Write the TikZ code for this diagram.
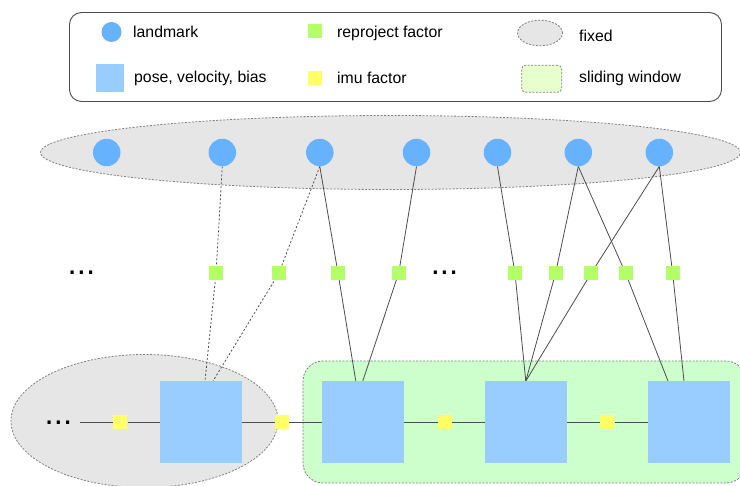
\documentclass[tikz,border=0pt]{standalone}
\usepackage{fontspec}
\setmainfont{Liberation Sans}
\usetikzlibrary{calc,shapes.geometric}
\pgfdeclarelayer{bg}
\pgfdeclarelayer{edges}
\pgfsetlayers{bg,edges,main}
\definecolor{lmkc}{HTML}{66B2FF}
\definecolor{posec}{HTML}{99CCFF}
\definecolor{repc}{HTML}{B3FF66}
\definecolor{imuc}{HTML}{FFFF66}
\definecolor{fixc}{HTML}{E6E6E6}
\definecolor{winc}{HTML}{CCFFCC}
\definecolor{winlc}{HTML}{E6FFCC}
\definecolor{edgec}{HTML}{4D4D4D}
\definecolor{bordc}{HTML}{808080}
\tikzset{
  x=1pt, y=-1pt,
  lmk/.style={circle, fill=lmkc, inner sep=0pt, minimum size=27.5},
  posebox/.style={rectangle, fill=posec, inner sep=0pt, minimum size=81.5},
  rep/.style={rectangle, fill=repc, inner sep=0pt, minimum size=14},
  imu/.style={rectangle, fill=imuc, inner sep=0pt, minimum size=14},
  lbl/.style={anchor=base west, inner sep=0pt, font=\fontsize{15.8}{18}\selectfont},
  dotsnode/.style={anchor=base, inner sep=0pt, font=\fontsize{33}{36}\selectfont},
  edge/.style={draw=edgec, line width=0.8pt},
  dedge/.style={draw=edgec, line width=0.8pt, dash pattern=on 2pt off 2pt},
  dborder/.style={draw=bordc, line width=0.8pt, dash pattern=on 2pt off 1.5pt},
}
\begin{document}
\begin{tikzpicture}
\useasboundingbox (0,0) rectangle (740,486);

% ---------- background regions ----------
\begin{pgfonlayer}{bg}
\fill[white] (0,0) rectangle (740,486);
\node[ellipse, fill=fixc, dborder, minimum width=700, minimum height=74, inner sep=0pt] (topfix) at (390.5,152.5) {};
\node[ellipse, fill=fixc, dborder, minimum width=267, minimum height=133, inner sep=0pt] (botfix) at (144.5,421) {};
\node[rectangle, rounded corners=20, fill=winc, dborder, minimum width=443, minimum height=122, inner sep=0pt] (window) at (524.5,422) {};
\end{pgfonlayer}

% ---------- legend ----------
\node[draw=edgec, line width=0.9pt, rounded corners=12, minimum width=652, minimum height=89, inner sep=0pt] (legend) at (395.5,57) {};
\node[lmk, minimum size=20] (kL) at (111.5,32) {};
\node[lbl] (kLt) at (133,38) {landmark};
\node[posebox, minimum width=28, minimum height=27.5] (kP) at (110,78) {};
\node[lbl] (kPt) at (134,82.5) {pose, velocity, bias};
\node[rep] (kR) at (315,31) {};
\node[lbl] (kRt) at (337,38) {reproject factor};
\node[imu] (kI) at (315,78) {};
\node[lbl] (kIt) at (337,84) {imu factor};
\node[ellipse, fill=fixc, dborder, minimum width=45, minimum height=25.6, inner sep=0pt] (kF) at (540,33) {};
\node[lbl] (kFt) at (579,41.5) {fixed};
\node[rectangle, rounded corners=4, fill=winlc, dborder, minimum width=40, minimum height=27, inner sep=0pt] (kW) at (541.7,78.7) {};
\node[lbl] (kWt) at (579,82.5) {sliding window};

% ---------- landmarks ----------
\node[lmk] (L1) at (106.7,152.5) {};
\node[lmk] (L2) at (222.3,152.5) {};
\node[lmk] (L3) at (319.8,152.5) {};
\node[lmk] (L4) at (416.5,152.5) {};
\node[lmk] (L5) at (497.5,152.5) {};
\node[lmk] (L6) at (578.3,152.5) {};
\node[lmk] (L7) at (659.3,152.5) {};

% ---------- reprojection factors ----------
\node[rep] (F1) at (216,273.5) {};
\node[rep] (F2) at (278.7,273.5) {};
\node[rep] (F3) at (338,273) {};
\node[rep] (F4) at (398.7,273) {};
\node[rep] (F5) at (515,273.5) {};
\node[rep] (F6) at (555.5,273.5) {};
\node[rep] (F7) at (591.3,273) {};
\node[rep] (F8) at (625.7,273.5) {};
\node[rep] (F9) at (672.7,273.5) {};
\node[dotsnode] (D1) at (81.5,274.4) {...};
\node[dotsnode] (D2) at (444.5,274.4) {...};

% ---------- poses and imu factors ----------
\node[posebox] (P1) at (201,422) {};
\node[posebox] (P2) at (362.8,422) {};
\node[posebox] (P3) at (525.8,422) {};
\node[posebox] (P4) at (689,422) {};
\node[imu] (I1) at (120.3,422) {};
\node[imu] (I2) at (282,422) {};
\node[imu] (I3) at (445,422) {};
\node[imu] (I4) at (607.3,422) {};
\node[dotsnode] (D0) at (58.5,424.7) {...};
\coordinate (chainstart) at (80,422);

\coordinate (P1a) at ($(P1.north)+(4,0)$);
\coordinate (P1b) at ($(P1.north)+(12,0)$);
\coordinate (P2a) at ($(P2.north)+(-7,0)$);
\coordinate (P2b) at ($(P2.north)+(0,0)$);
\coordinate (P3a) at (P3.north);
\coordinate (P4a) at ($(P4.north)+(-21,0)$);
\coordinate (P4b) at ($(P4.north)+(-5,0)$);

% ---------- connectors ----------
\begin{pgfonlayer}{edges}
\draw[edge] (chainstart) -- (I1) -- (P1.west);
\draw[edge] (P1.east) -- (I2) -- (P2.west);
\draw[edge] (P2.east) -- (I3) -- (P3.west);
\draw[edge] (P3.east) -- (I4) -- (P4.west);

\draw[dedge] (L2.south) -- (F1.center) -- (P1a);
\draw[dedge] (L3.south) -- (F2.center) -- (P1b);
\draw[edge] (L3.south) -- (F3.center) -- (P2a);
\draw[edge] (L4.south) -- (F4.center) -- (P2b);
\draw[edge] (L5.south) -- (F5.center) -- (P3a);
\draw[edge] (L6.south) -- (F6.center) -- (P3a);
\draw[edge] (L6.south) -- (F8.center) -- (P4a);
\draw[edge] (L7.south) -- (F7.center) -- (P3a);
\draw[edge] (L7.south) -- (F9.center) -- (P4b);
\end{pgfonlayer}
\end{tikzpicture}
\end{document}
